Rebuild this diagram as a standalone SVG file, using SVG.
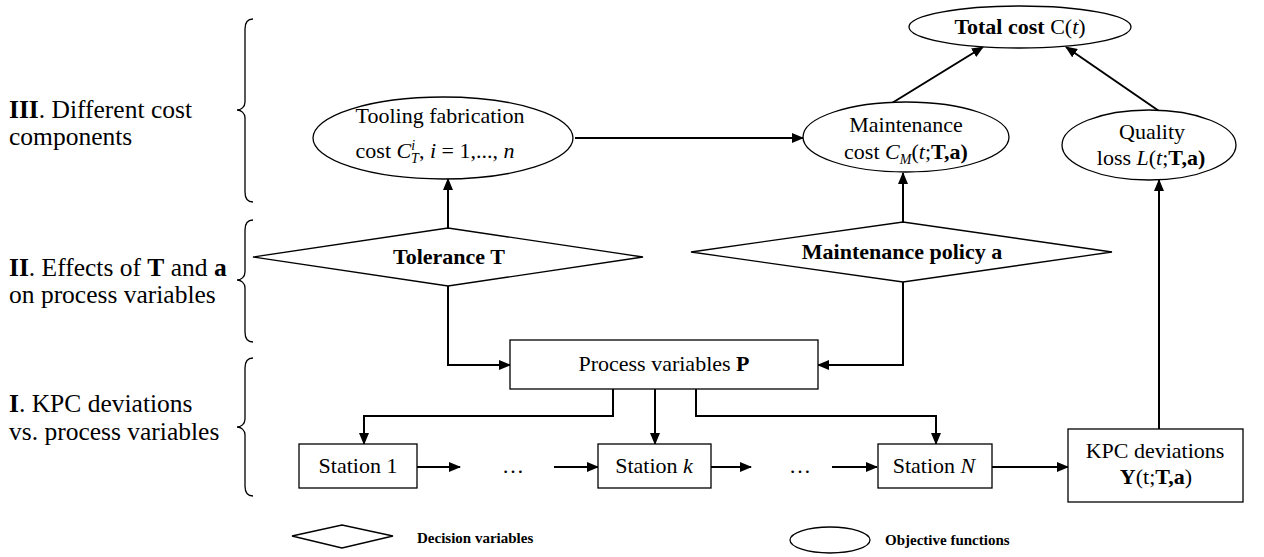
<svg xmlns="http://www.w3.org/2000/svg" width="1264" height="557" viewBox="0 0 1264 557">
<defs>
<marker id="ah" markerWidth="12" markerHeight="10" refX="11" refY="5" orient="auto" markerUnits="userSpaceOnUse">
<path d="M0,0 L12,5 L0,10 Z" fill="#000"/>
</marker>
<style>
.shape{fill:#fff;stroke:#000;stroke-width:1.3}
.brace{fill:none;stroke:#000;stroke-width:1.3}
.con{fill:none;stroke:#000;stroke-width:2;marker-end:url(#ah)}
.lab{font-family:"Liberation Serif","Times New Roman",serif;font-size:25.5px;fill:#000}
.n{font-family:"Liberation Serif","Times New Roman",serif;font-size:22px;fill:#000;text-anchor:middle}
.lg{font-family:"Liberation Serif","Times New Roman",serif;font-size:15px;font-weight:bold;fill:#000}
.b{font-weight:bold}
.i{font-style:italic}
</style>
</defs>
<rect width="1264" height="557" fill="#fff"/>

<g id="labels">
<text class="lab" x="9" y="118"><tspan class="b">III</tspan>. Different cost</text>
<text class="lab" x="9" y="145">components</text>
<text class="lab" x="9" y="276"><tspan class="b">II</tspan>. Effects of <tspan class="b">T</tspan> and <tspan class="b">a</tspan></text>
<text class="lab" x="9" y="303">on process variables</text>
<text class="lab" x="9" y="412"><tspan class="b">I</tspan>. KPC deviations</text>
<text class="lab" x="9" y="440">vs. process variables</text>
</g>

<g id="braces">
<path class="brace" d="M253 19 C247 19 245 23 245 29 L245 102 C245 107 241 110 237 110 C241 110 245 113 245 118 L245 192 C245 198 247 202 253 202"/>
<path class="brace" d="M253 220 C247 220 245 224 245 230 L245 272 C245 277 241 280 237 280 C241 280 245 283 245 288 L245 332 C245 338 247 342 253 342"/>
<path class="brace" d="M253 358 C247 358 245 362 245 368 L245 419 C245 424 241 427 237 427 C241 427 245 430 245 435 L245 486 C245 492 247 496 253 496"/>
</g>

<g id="connectors">
<path class="con" d="M448 228 V179"/>
<path class="con" d="M448 286 V365 H510"/>
<path class="con" d="M903 222 V173"/>
<path class="con" d="M903 282 V365 H818"/>
<path class="con" d="M575 138 H803"/>
<path class="con" d="M892 103 L983 47"/>
<path class="con" d="M1159 111 L1066 47"/>
<path class="con" d="M1159 429 V180"/>
<path class="con" d="M613 389 V416 H364 V444"/>
<path class="con" d="M655 389 V444"/>
<path class="con" d="M696 389 V416 H936 V444"/>
<path class="con" d="M417 467 H460"/>
<path class="con" d="M554 467 H598"/>
<path class="con" d="M711 467 H751"/>
<path class="con" d="M832 467 H877"/>
<path class="con" d="M992 467 H1068"/>
</g>

<g id="total-cost">
<ellipse class="shape" cx="1020" cy="27" rx="111" ry="21"/>
<text class="n" x="1020" y="34"><tspan class="b">Total cost</tspan> C(<tspan class="i">t</tspan>)</text>
</g>

<g id="tooling-cost">
<ellipse class="shape" cx="443" cy="138" rx="130" ry="41"/>
<text class="n" x="440" y="123">Tooling fabrication</text>
<text class="n" x="435" y="158">cost <tspan class="i">C</tspan><tspan class="i" font-size="14" dy="-8">i</tspan><tspan class="i" font-size="14" dx="-4" dy="13">T</tspan><tspan dy="-5">, </tspan><tspan class="i">i</tspan> = 1,..., <tspan class="i">n</tspan></text>
</g>

<g id="maintenance-cost">
<ellipse class="shape" cx="906" cy="137" rx="103" ry="35"/>
<text class="n" x="906" y="132">Maintenance</text>
<text class="n" x="906" y="159">cost <tspan class="i">C</tspan><tspan class="i" font-size="14" dy="5">M</tspan><tspan dy="-5">(</tspan><tspan class="i">t</tspan>;<tspan class="b">T,a)</tspan></text>
</g>

<g id="quality-loss">
<ellipse class="shape" cx="1149" cy="145" rx="87" ry="35"/>
<text class="n" x="1152" y="139">Quality</text>
<text class="n" x="1151" y="165">loss <tspan class="i">L</tspan>(<tspan class="i">t</tspan>;<tspan class="b">T,a)</tspan></text>
</g>

<g id="tolerance">
<polygon class="shape" points="253,257 448,228 643,257 448,286"/>
<text class="n b" x="449" y="264">Tolerance T</text>
</g>

<g id="maintenance-policy">
<polygon class="shape" points="691,252 903,222 1112,252 903,282"/>
<text class="n b" x="902" y="259">Maintenance policy a</text>
</g>

<g id="process-variables">
<rect class="shape" x="510" y="340" width="308" height="49"/>
<text class="n" x="664" y="371">Process variables <tspan class="b">P</tspan></text>
</g>

<g id="station-1">
<rect class="shape" x="299" y="444" width="118" height="44"/>
<text class="n" x="358" y="473">Station 1</text>
</g>
<g id="dots-1"><text class="n" x="513" y="473">…</text></g>
<g id="station-k">
<rect class="shape" x="598" y="444" width="113" height="44"/>
<text class="n" x="654" y="473">Station <tspan class="i">k</tspan></text>
</g>
<g id="dots-2"><text class="n" x="800" y="473">…</text></g>
<g id="station-n">
<rect class="shape" x="878" y="444" width="114" height="44"/>
<text class="n" x="934" y="473">Station <tspan class="i">N</tspan></text>
</g>

<g id="kpc">
<rect class="shape" x="1068" y="429" width="175" height="73"/>
<text class="n" x="1155" y="458">KPC deviations</text>
<text class="n" x="1156" y="484"><tspan class="b">Y</tspan>(t;<tspan class="b">T,a</tspan>)</text>
</g>

<g id="legend">
<polygon class="shape" points="292,536 342,525 393,536 342,548"/>
<text class="lg" x="417" y="543">Decision variables</text>
<ellipse class="shape" cx="830" cy="540" rx="40" ry="13"/>
<text class="lg" x="885" y="545">Objective functions</text>
</g>
</svg>
